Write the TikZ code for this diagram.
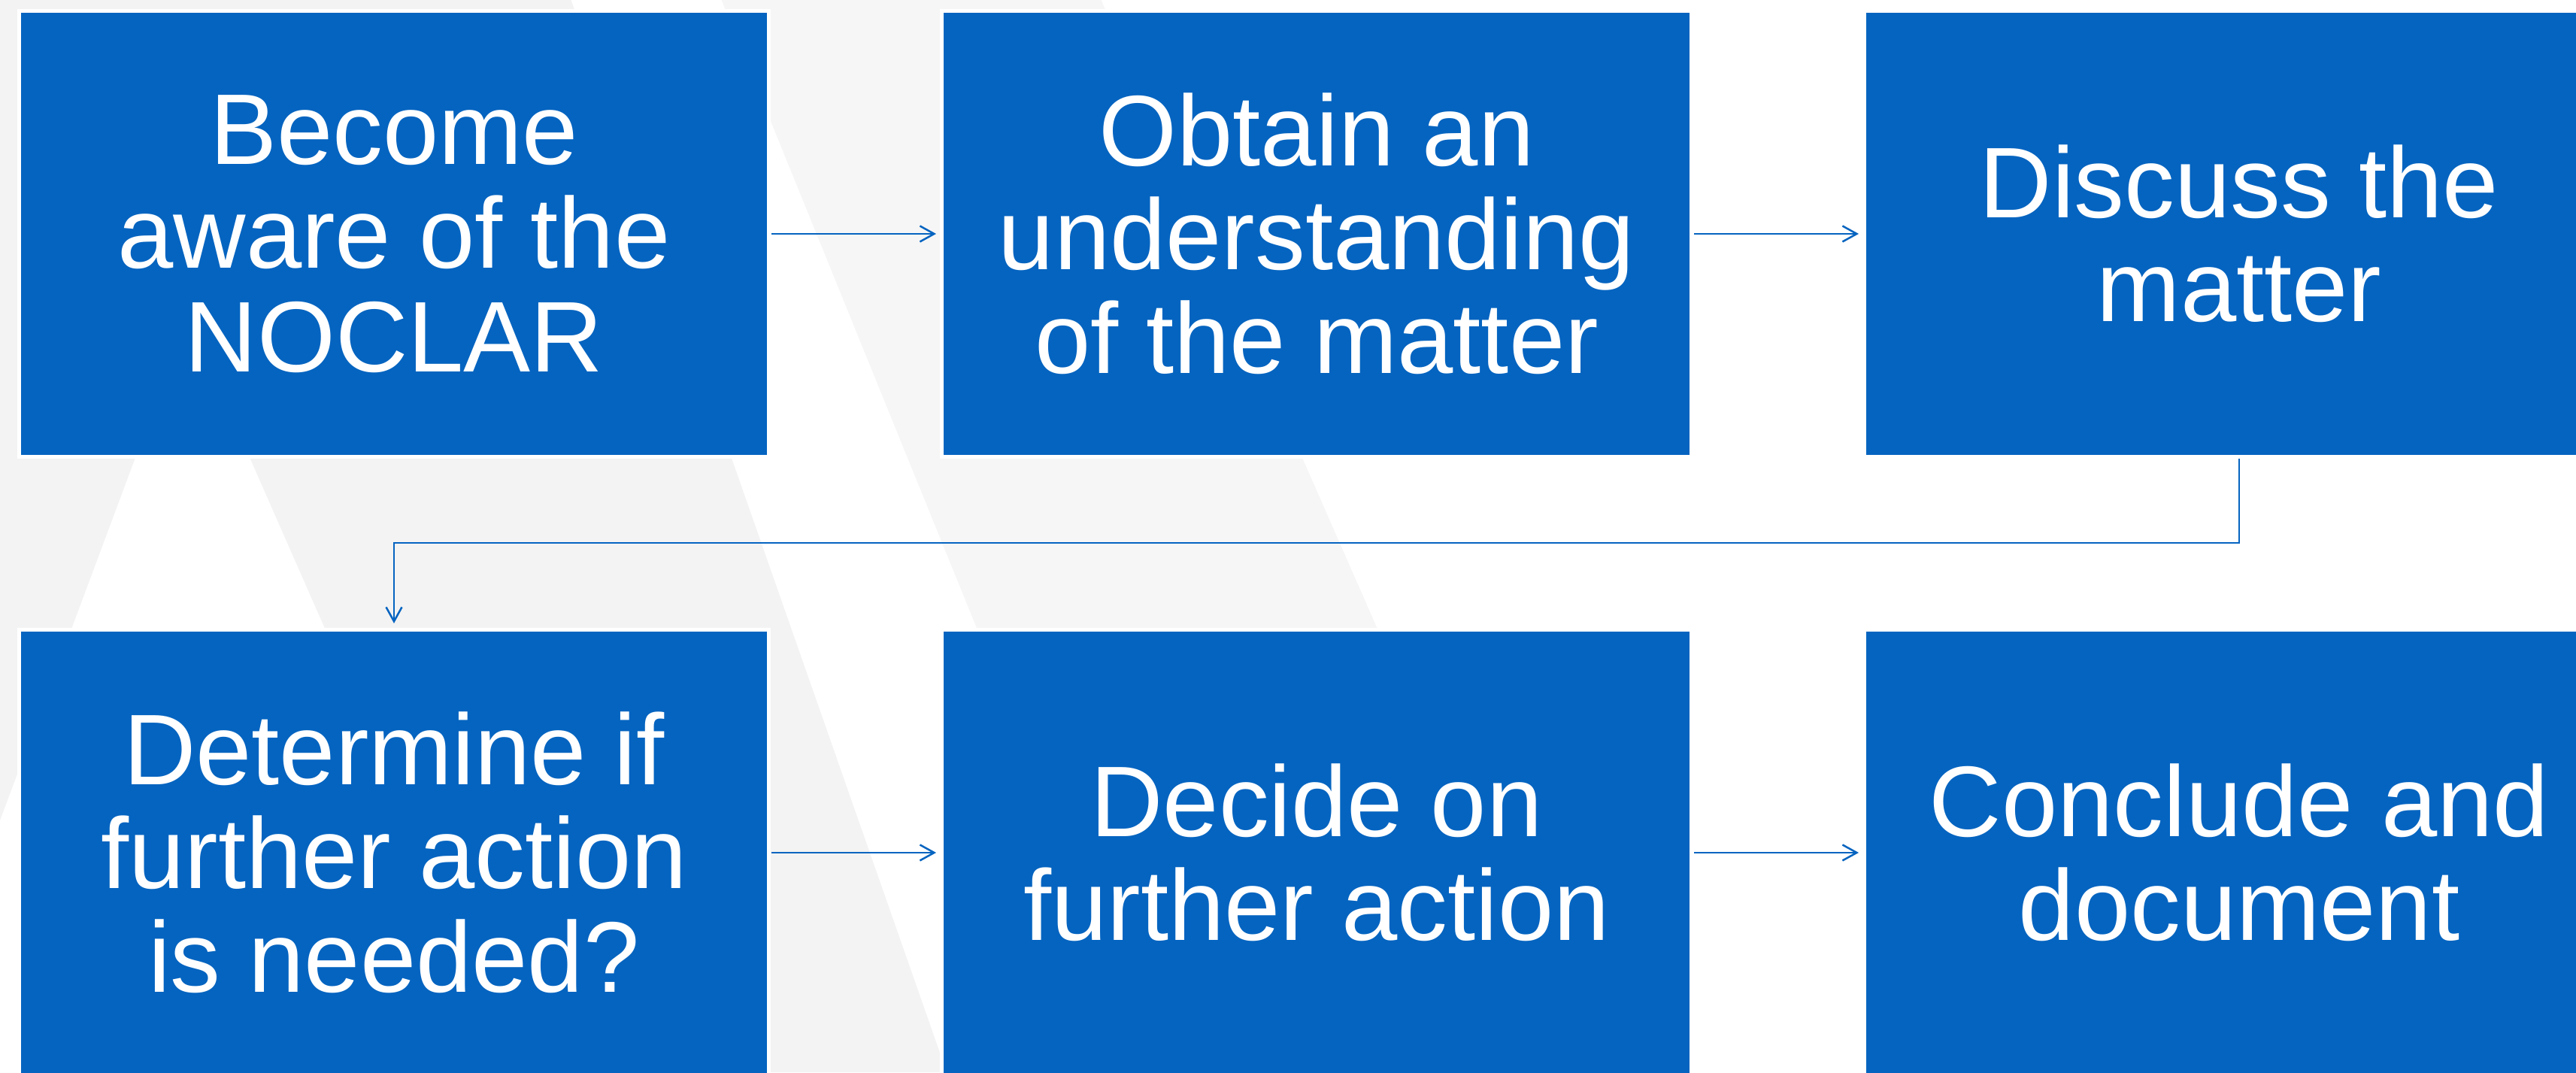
\documentclass[tikz,border=0pt]{standalone}
\usepackage{fontspec}
\setmainfont{Liberation Sans}
\usepackage{xcolor}
\usetikzlibrary{positioning}
\usetikzlibrary{arrows.meta}
\definecolor{noclarblue}{RGB}{5,100,192}
\definecolor{slidegray}{RGB}{243,243,243}
\definecolor{bandgray}{RGB}{246,246,246}
\tikzset{%
  stepbox/.style={fill=noclarblue,draw=white,line width=0.05cm,
    minimum width=9.97cm,minimum height=5.93cm,inner sep=0pt,
    text=white,align=center,font=\fontsize{38}{39.3}\selectfont},
  flow/.style={draw=noclarblue,line width=0.022cm,
    -{Straight Barb[length=0.19cm,width=0.21cm,line width=0.025cm]}}
}

\begin{document}
\begin{tikzpicture}
  \useasboundingbox (0,0) rectangle (34.26,14.27);
  \clip (0,0) rectangle (34.26,14.27);

  % slide background with its light streaks
  \fill[white] (0,0) rectangle (34.26,14.27);
  \begin{scope}[yshift=14.27cm,x=0.01cm,y=-0.01cm]
    \fill[slidegray] (0,0) -- (1465,0) -- (2092,1427) -- (0,1427) -- cycle;
    \fill[bandgray] (960,0) -- (1465,0) -- (2092,1427) -- (1540,1427) -- cycle;
    \fill[white] (760,0) -- (960,0) -- (1540,1427) -- (1260,1427) -- cycle;
    \fill[white] (250,422) -- (692,1427) -- (-125,1427) -- cycle;
  \end{scope}

  % first row
  \node[stepbox] (aware) at (5.24,11.16) {Become\\aware of the\\NOCLAR};
  \node[stepbox, right=2.25cm of aware] (understand) {Obtain an\\understanding\\of the matter};
  \node[stepbox, right=2.25cm of understand] (discuss) {Discuss the\\matter};

  % second row
  \node[stepbox, below=2.25cm of aware] (determine) {Determine if\\further action\\is needed?};
  \node[stepbox, right=2.25cm of determine] (decide) {Decide on\\further action};
  \node[stepbox, right=2.25cm of decide] (conclude) {Conclude and\\document};

  \draw[flow, shorten <=0.01cm, shorten >=0.05cm] (aware) -- (understand);
  \draw[flow, shorten <=0.01cm, shorten >=0.05cm] (understand) -- (discuss);
  \draw[flow, shorten >=0.06cm] (discuss.south) -- ++(0,-1.12) -| (determine.north);
  \draw[flow, shorten <=0.01cm, shorten >=0.05cm] (determine) -- (decide);
  \draw[flow, shorten <=0.01cm, shorten >=0.05cm] (decide) -- (conclude);
\end{tikzpicture}
\end{document}
